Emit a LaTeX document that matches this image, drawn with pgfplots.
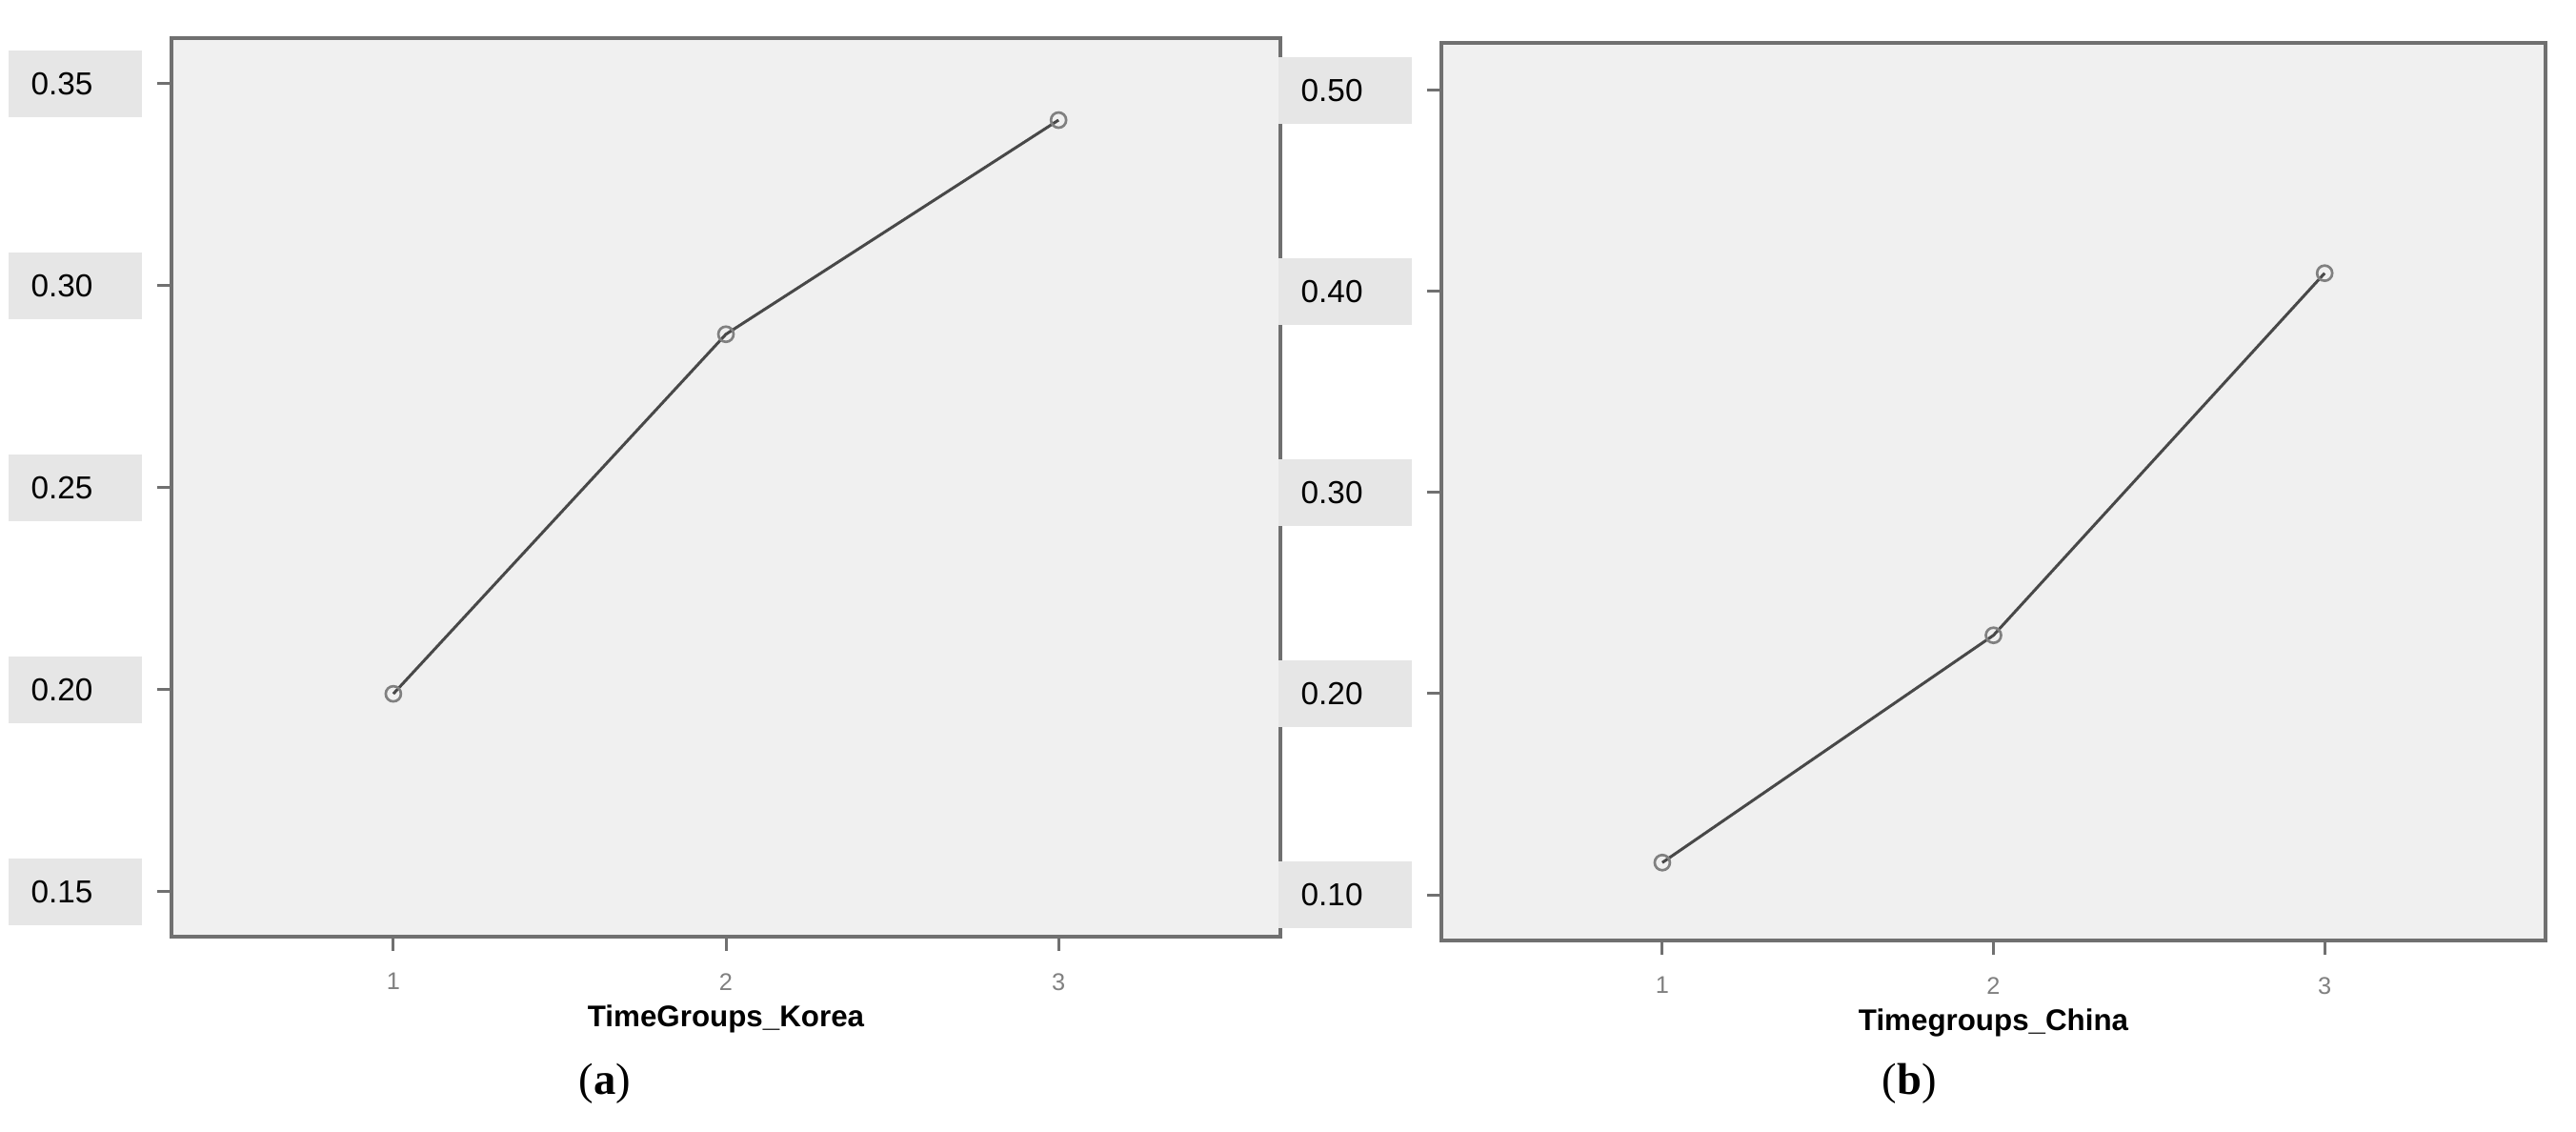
\documentclass[border=0pt]{standalone}
\usepackage{fontspec}
\setmainfont{Liberation Sans}
\newfontfamily\capfont{Liberation Serif}
\usepackage{pgfplots}
\pgfplotsset{compat=1.18}

\definecolor{bggray}{HTML}{F0F0F0}
\definecolor{boxgray}{HTML}{E6E6E6}
\definecolor{framegray}{HTML}{707070}
\definecolor{linegray}{HTML}{484848}
\definecolor{markgray}{HTML}{808080}

\pgfplotsset{
  spss/.style={
    scale only axis,
    axis background/.style={fill=bggray},
    axis line style={draw=framegray, line width=0.55pt},
    tick style={draw=framegray, line width=0.45pt},
    tick align=outside, tick pos=left,
    major tick length=2.25pt,
    xmin=0.333, xmax=3.667,
    xtick={1,2,3},
    /pgf/number format/assume math mode=true,
    yticklabel style={
      font=\fontsize{5}{6}\selectfont,
      /pgf/number format/.cd, fixed, fixed zerofill, precision=2,
      /tikz/.cd,
      fill=boxgray, text width=13.8pt, align=left, inner xsep=3.6pt,
      minimum height=10.5pt, anchor=east, xshift=-2.25pt},
    xticklabel style={font=\fontsize{3.8}{4}\selectfont, text=markgray,
      inner sep=0pt, anchor=north, yshift=-3.3pt},
    xlabel style={font=\fontsize{4.7}{5.5}\selectfont\bfseries,
      at={(axis description cs:0.5,0)}, anchor=center, yshift=-12.9pt},
  },
  spssline/.style={color=linegray, line width=0.45pt,
    mark=o, mark size=1.2pt,
    mark options={draw=markgray, fill=none, line width=0.4pt}},
}

\begin{document}
\begin{tikzpicture}
\useasboundingbox (0,0) rectangle (405.6pt,178.2pt);

\begin{axis}[spss, at={(27pt,30.75pt)}, anchor=south west,
  width=174.6pt, height=141.45pt,
  ymin=0.1389, ymax=0.3613,
  ytick={0.15,0.20,0.25,0.30,0.35},
  xlabel={TimeGroups\_Korea}]
  \addplot[spssline] coordinates {(1,0.199) (2,0.288) (3,0.341)};
\end{axis}

\begin{axis}[spss, at={(226.95pt,30.15pt)}, anchor=south west,
  width=173.85pt, height=141.3pt,
  ymin=0.0773, ymax=0.5235,
  ytick={0.10,0.20,0.30,0.40,0.50},
  xlabel={Timegroups\_China}]
  \addplot[spssline] coordinates {(1,0.116) (2,0.229) (3,0.409)};
\end{axis}

\node[font=\capfont\fontsize{7}{8}\selectfont] at (95.25pt,7.6pt) {(\textbf{a})};
\node[font=\capfont\fontsize{7}{8}\selectfont] at (300.6pt,7.6pt) {(\textbf{b})};
\end{tikzpicture}
\end{document}
